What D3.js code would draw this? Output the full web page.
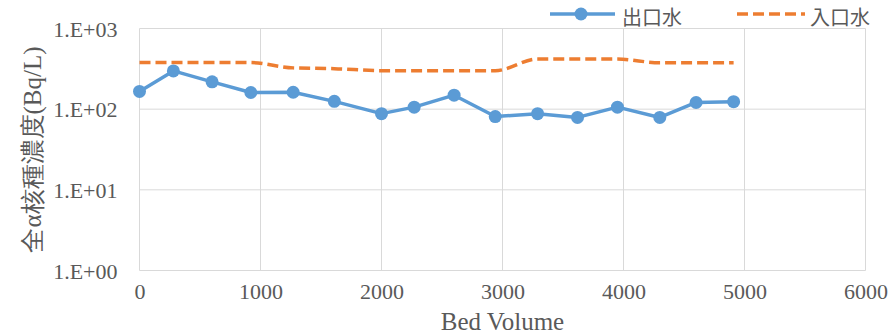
<!DOCTYPE html>
<html>
<head>
<meta charset="utf-8">
<script src="https://cdn.jsdelivr.net/npm/d3@7/dist/d3.min.js"></script>
<style>
  html, body { margin: 0; padding: 0; background: #fff; }
  svg { display: block; }
  .serif { font-family: "Liberation Serif", "Tinos", "Times New Roman", "DejaVu Serif", serif; }
  .cjk { font-family: "Noto Sans CJK JP", "Noto Sans CJK TC", sans-serif; }
</style>
</head>
<body>
<svg id="chart" width="895" height="335"></svg>
<script>
// ---- data ----
const bedVolume = [0, 280, 600, 920, 1270, 1610, 2000, 2270, 2600, 2940, 3290, 3620, 3950, 4300, 4600, 4910];
const outletValues = [166, 298, 218, 161, 162, 125, 88, 106, 149, 81, 88, 79, 106, 79, 121, 124];
const inletValues = [380, 380, 380, 378, 325, 318, 300, 300, 300, 300, 418, 418, 418, 376, 376, 376];
const seriesNames = ["出口水", "入口水"];
const xTicks = [0, 1000, 2000, 3000, 4000, 5000, 6000];
const yTicks = [1, 10, 100, 1000];
const yTickLabels = ["1.E+00", "1.E+01", "1.E+02", "1.E+03"];
const xTitle = "Bed Volume";
const yTitle = "全α核種濃度(Bq/L)";

// ---- layout ----
const svg = d3.select("#chart");
const pLeft = 139.5, pRight = 865.5, pTop = 28.5, pBottom = 270.5;
const blue = "#5b9bd5", orange = "#ed7d31", grid = "#d9d9d9", textCol = "#595959";

const x = d3.scaleLinear().domain([0, 6000]).range([pLeft, pRight]);
const y = d3.scaleLog().domain([1, 1000]).range([pBottom, pTop]);

// gridlines
svg.append("g").selectAll("line").data(yTicks).join("line")
  .attr("x1", pLeft).attr("x2", pRight)
  .attr("y1", d => y(d)).attr("y2", d => y(d))
  .attr("stroke", grid).attr("stroke-width", 1);
svg.append("g").selectAll("line").data(xTicks).join("line")
  .attr("x1", d => x(d)).attr("x2", d => x(d))
  .attr("y1", pTop).attr("y2", pBottom)
  .attr("stroke", grid).attr("stroke-width", 1);

// axes (labels only)
const xAxis = d3.axisBottom(x).tickValues(xTicks).tickSize(0).tickPadding(0).tickFormat(d3.format("d"));
const gx = svg.append("g").attr("transform", `translate(0,${pBottom})`).call(xAxis);
gx.attr("font-family", null).attr("font-size", null).attr("class", "serif");
gx.select(".domain").remove();
gx.selectAll("text").attr("y", 28).attr("dy", "0")
  .style("font-size", "22px").attr("fill", textCol);

const yAxis = d3.axisLeft(y).tickValues(yTicks).tickSize(0).tickPadding(0)
  .tickFormat((d, i) => yTickLabels[i]);
const gy = svg.append("g").attr("transform", `translate(${pLeft},0)`).call(yAxis);
gy.attr("font-family", null).attr("font-size", null).attr("class", "serif");
gy.select(".domain").remove();
gy.selectAll("text").attr("x", -22).attr("dy", "0.35em")
  .style("font-size", "22px").attr("fill", textCol);

// titles
svg.append("text").attr("class", "serif").attr("x", (pLeft + pRight) / 2).attr("y", 330)
  .attr("text-anchor", "middle").style("font-size", "25px")
  .attr("fill", textCol).text(xTitle);
svg.append("text").attr("class", "serif").attr("transform", `translate(41,${(pTop + pBottom) / 2}) rotate(-90)`)
  .attr("text-anchor", "middle").style("font-size", "25px")
  .attr("fill", textCol).text(yTitle);

// series
const pts = (vals) => bedVolume.map((b, i) => [b, vals[i]]);
const lineStraight = d3.line().x(d => x(d[0])).y(d => y(d[1]));
const lineSmooth = d3.line().x(d => x(d[0])).y(d => y(d[1])).curve(d3.curveMonotoneX);

svg.append("path").datum(pts(inletValues)).attr("d", lineSmooth)
  .attr("fill", "none").attr("stroke", orange).attr("stroke-width", 3.5)
  .attr("stroke-dasharray", "11,5");

svg.append("path").datum(pts(outletValues)).attr("d", lineStraight)
  .attr("fill", "none").attr("stroke", blue).attr("stroke-width", 3.5)
  .attr("stroke-linejoin", "round");
svg.append("g").selectAll("circle").data(pts(outletValues)).join("circle")
  .attr("cx", d => x(d[0])).attr("cy", d => y(d[1])).attr("r", 6.5)
  .attr("fill", blue);

// legend
const lg = svg.append("g");
lg.append("line").attr("x1", 550).attr("x2", 615).attr("y1", 14).attr("y2", 14)
  .attr("stroke", blue).attr("stroke-width", 3.5);
lg.append("circle").attr("cx", 581).attr("cy", 14).attr("r", 6.5).attr("fill", blue);
lg.append("text").attr("class", "cjk").attr("x", 622).attr("y", 25)
  .style("font-size", "20px").attr("fill", textCol).text(seriesNames[0]);
lg.append("line").attr("x1", 737).attr("x2", 805).attr("y1", 14).attr("y2", 14)
  .attr("stroke", orange).attr("stroke-width", 3.5).attr("stroke-dasharray", "11,5");
lg.append("text").attr("class", "cjk").attr("x", 810).attr("y", 25)
  .style("font-size", "20px").attr("fill", textCol).text(seriesNames[1]);
</script>
</body>
</html>
